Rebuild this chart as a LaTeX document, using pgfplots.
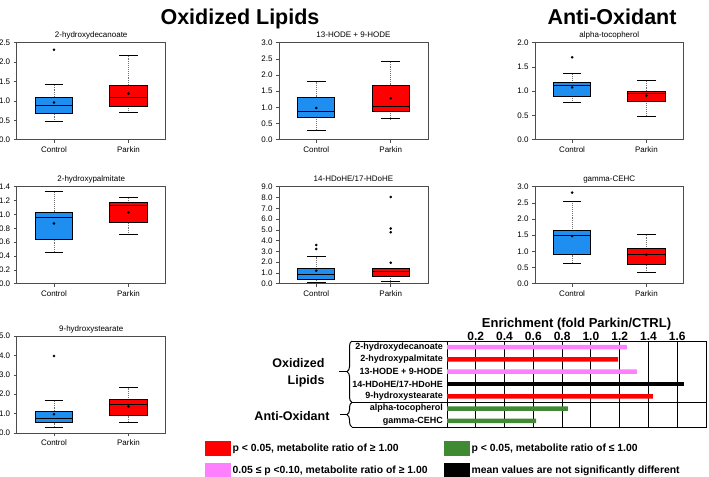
\documentclass[border=0pt]{standalone}
\usepackage{fontspec}
\setmainfont{Liberation Sans}
\usepackage{pgfplots}
\pgfplotsset{compat=1.18}
\usepgfplotslibrary{statistics}
\usetikzlibrary{decorations.pathreplacing}

\definecolor{ctrlblue}{HTML}{1E8FF0}
\definecolor{pkred}{HTML}{FF0000}
\definecolor{pinkish}{HTML}{FF80FF}
\definecolor{darkgreen}{HTML}{3F8A32}

\newcommand\fs[1]{\fontsize{#1bp}{#1bp}\selectfont}

\pgfplotsset{
  /pgf/number format/assume math mode=true,
  every axis title shift=0pt,
  boxpanel/.style={
    scale only axis, width=149bp, height=97bp, anchor=north west,
    xmin=0.5, xmax=2.5, ymin=0,
    xtick={1,2}, xticklabels={Control,Parkin},
    tick pos=left, tick align=outside, major tick length=3bp,
    axis line style={draw=black!70, line width=0.8bp},
    every tick/.style={black!70, line width=0.6bp},
    ticklabel style={font=\fs{8}},
    yticklabel style={/pgf/number format/fixed, /pgf/number format/fixed zerofill, /pgf/number format/precision=1},
    title style={font=\fs{8}, anchor=base, yshift=5bp},
    boxplot/draw direction=y,
    boxplot/box extend=0.5,
    boxplot/whisker extend=0.25,
    boxplot/every median/.style={black, line width=0.9bp},
    boxplot/every average/.style={/tikz/mark=*, /tikz/mark size=1.1bp, /tikz/draw=black, /tikz/fill=black},
    boxplot/draw/lower whisker/.code={%
      \draw[black!55, densely dotted, line width=0.9bp]
        (boxplot box cs:\pgfplotsboxplotvalue{lower quartile},0.5) --
        (boxplot box cs:\pgfplotsboxplotvalue{lower whisker},0.5);
      \draw[black, line width=0.7bp]
        (boxplot whisker cs:\pgfplotsboxplotvalue{lower whisker},0) --
        (boxplot whisker cs:\pgfplotsboxplotvalue{lower whisker},1);
    },
    boxplot/draw/upper whisker/.code={%
      \draw[black!55, densely dotted, line width=0.9bp]
        (boxplot box cs:\pgfplotsboxplotvalue{upper quartile},0.5) --
        (boxplot box cs:\pgfplotsboxplotvalue{upper whisker},0.5);
      \draw[black, line width=0.7bp]
        (boxplot whisker cs:\pgfplotsboxplotvalue{upper whisker},0) --
        (boxplot whisker cs:\pgfplotsboxplotvalue{upper whisker},1);
    },
  },
  ctrl/.style={boxplot/every box/.style={fill=ctrlblue, draw=black, line width=0.8bp},
    mark=*, mark size=1.1bp, mark options={black, fill=black}},
  park/.style={boxplot/every box/.style={fill=pkred, draw=black, line width=0.8bp},
    mark=*, mark size=1.1bp, mark options={black, fill=black}},
}

\begin{document}
\begin{tikzpicture}
\path[use as bounding box] (0,0) rectangle (709bp,-477bp);

\node[font=\bfseries\fs{21.5}, anchor=base] at (240bp,-24bp) {Oxidized Lipids};
\node[font=\bfseries\fs{21.5}, anchor=base] at (612bp,-24bp) {Anti-Oxidant};

% row 1
\begin{axis}[boxpanel, at={(16.7bp,-42.7bp)}, ymax=2.5, ytick={0,0.5,1,1.5,2,2.5},
  title={2-hydroxydecanoate}]
  \addplot[ctrl, boxplot prepared={draw position=1, lower whisker=0.47, lower quartile=0.67,
    median=0.89, upper quartile=1.10, upper whisker=1.43, average=0.96}] coordinates {(1,2.32)};
  \addplot[park, boxplot prepared={draw position=2, lower whisker=0.70, lower quartile=0.86,
    median=1.10, upper quartile=1.41, upper whisker=2.17, average=1.19}] coordinates {};
\end{axis}

\begin{axis}[boxpanel, at={(279bp,-42.7bp)}, ymax=3, ytick={0,0.5,1,1.5,2,2.5,3},
  title={13-HODE + 9-HODE}]
  \addplot[ctrl, boxplot prepared={draw position=1, lower whisker=0.29, lower quartile=0.69,
    median=0.87, upper quartile=1.31, upper whisker=1.79, average=0.98}] coordinates {};
  \addplot[park, boxplot prepared={draw position=2, lower whisker=0.65, lower quartile=0.89,
    median=1.02, upper quartile=1.68, upper whisker=2.42, average=1.28}] coordinates {};
\end{axis}

\begin{axis}[boxpanel, at={(535bp,-42.7bp)}, width=148.5bp, ymax=2, ytick={0,0.5,1,1.5,2},
  title={alpha-tocopherol}]
  \addplot[ctrl, boxplot prepared={draw position=1, lower whisker=0.77, lower quartile=0.90,
    median=1.11, upper quartile=1.18, upper whisker=1.37, average=1.08}] coordinates {(1,1.70)};
  \addplot[park, boxplot prepared={draw position=2, lower whisker=0.49, lower quartile=0.79,
    median=0.96, upper quartile=1.00, upper whisker=1.22, average=0.91}] coordinates {};
\end{axis}

% row 2
\begin{axis}[boxpanel, at={(16.7bp,-186.7bp)}, ymax=1.4, ytick={0,0.2,0.4,0.6,0.8,1,1.2,1.4},
  title={2-hydroxypalmitate}]
  \addplot[ctrl, boxplot prepared={draw position=1, lower whisker=0.45, lower quartile=0.635,
    median=0.95, upper quartile=1.03, upper whisker=1.34, average=0.87}] coordinates {};
  \addplot[park, boxplot prepared={draw position=2, lower whisker=0.71, lower quartile=0.88,
    median=1.13, upper quartile=1.17, upper whisker=1.25, average=1.03}] coordinates {};
\end{axis}

\begin{axis}[boxpanel, at={(279bp,-186.7bp)}, ymax=9, ytick={0,1,...,9},
  title={14-HDoHE/17-HDoHE}]
  \addplot[ctrl, boxplot prepared={draw position=1, lower whisker=0.15, lower quartile=0.37,
    median=0.83, upper quartile=1.38, upper whisker=2.58, average=1.20}] coordinates {(1,3.22) (1,3.59)};
  \addplot[park, boxplot prepared={draw position=2, lower whisker=0.18, lower quartile=0.71,
    median=1.10, upper quartile=1.38, upper whisker=1.44, average=1.95}] coordinates {(2,4.78) (2,5.12) (2,8.04)};
\end{axis}

\begin{axis}[boxpanel, at={(535bp,-186.7bp)}, width=148.5bp, ymax=3, ytick={0,0.5,1,1.5,2,2.5,3},
  title={gamma-CEHC}]
  \addplot[ctrl, boxplot prepared={draw position=1, lower whisker=0.62, lower quartile=0.90,
    median=1.49, upper quartile=1.64, upper whisker=2.56, average=1.47}] coordinates {(1,2.82)};
  \addplot[park, boxplot prepared={draw position=2, lower whisker=0.34, lower quartile=0.59,
    median=0.90, upper quartile=1.08, upper whisker=1.54, average=0.90}] coordinates {};
\end{axis}

% row 3
\begin{axis}[boxpanel, at={(16.7bp,-336bp)}, ymax=5, ytick={0,1,...,5},
  title={9-hydroxystearate}]
  \addplot[ctrl, boxplot prepared={draw position=1, lower whisker=0.27, lower quartile=0.54,
    median=0.75, upper quartile=1.12, upper whisker=1.69, average=0.97}] coordinates {(1,3.97)};
  \addplot[park, boxplot prepared={draw position=2, lower whisker=0.53, lower quartile=0.90,
    median=1.47, upper quartile=1.71, upper whisker=2.37, average=1.37}] coordinates {};
\end{axis}

% enrichment chart
\begin{axis}[
  at={(447bp,-341bp)}, anchor=north west,
  scale only axis, width=259bp, height=86bp,
  xbar, bar width=4.5bp, bar shift=0pt,
  xmin=0, xmax=1.8, ymin=0.5, ymax=7.5,
  xtick={0.2,0.4,0.6,0.8,1.0,1.2,1.4,1.6},
  xticklabel pos=upper,
  xticklabel style={font=\bfseries\fs{12}, inner sep=0pt, yshift=0bp,
    /pgf/number format/fixed, /pgf/number format/fixed zerofill, /pgf/number format/precision=1},
  ytick={1,...,7},
  yticklabels={gamma-CEHC, alpha-tocopherol, 9-hydroxystearate, 14-HDoHE/17-HDoHE,
    13-HODE + 9-HODE, 2-hydroxypalmitate, 2-hydroxydecanoate},
  yticklabel style={font=\bfseries\fs{9}, inner sep=0pt, xshift=-4bp},
  major tick length=0pt,
  xmajorgrids, major grid style={black, line width=0.9bp},
  axis line style={black, line width=1bp},
  title={Enrichment (fold Parkin/CTRL)},
  title style={font=\bfseries\fs{13}, anchor=base, yshift=13.5bp},
  legend columns=2,
  legend style={at={(-0.946,-0.14)}, anchor=north west, draw=none, fill=none,
    font=\bfseries\fs{10.4}, row sep=7bp, nodes={inner sep=1.5bp},
    /tikz/every even column/.append style={column sep=15bp}},
  legend cell align=left,
  legend image code/.code={\fill[#1] (0bp,-7.5bp) rectangle (26bp,7.5bp);},
]
  \addplot[fill=pkred, draw=none] coordinates {(1.19,6) (1.43,3)};
  \addplot[fill=darkgreen, draw=none] coordinates {(0.84,2) (0.62,1)};
  \addplot[fill=pinkish, draw=none] coordinates {(1.25,7) (1.32,5)};
  \addplot[fill=black, draw=none] coordinates {(1.65,4)};
  \legend{{p < 0.05, metabolite ratio of ≥ 1.00}, {p < 0.05, metabolite ratio of ≤ 1.00},
    {0.05 ≤ p <0.10, metabolite ratio of ≥ 1.00}, {mean values are not significantly different}}
\end{axis}

% frame and braces left of the enrichment chart
\draw[line width=1bp] (352bp,-341bp) -- (447bp,-341bp);
\draw[line width=1bp] (352bp,-402.4bp) -- (706bp,-402.4bp);
\draw[line width=1bp] (352bp,-427bp) -- (447bp,-427bp);
\draw[line width=1bp, decorate, decoration={brace, amplitude=5bp}] (352bp,-402.4bp) -- (352bp,-341bp);
\draw[line width=1bp, decorate, decoration={brace, amplitude=5bp}] (352bp,-427bp) -- (352bp,-402.4bp);
\draw[line width=1bp] (339bp,-371.7bp) -- (347bp,-371.7bp);
\draw[line width=1bp] (340bp,-414.7bp) -- (347bp,-414.7bp);
\node[anchor=east, align=right, font=\bfseries\fontsize{12.5bp}{16.5bp}\selectfont] at (328bp,-373bp) {Oxidized\\Lipids};
\node[anchor=east, font=\bfseries\fs{12.5}] at (333bp,-416bp) {Anti-Oxidant};
\end{tikzpicture}
\end{document}
